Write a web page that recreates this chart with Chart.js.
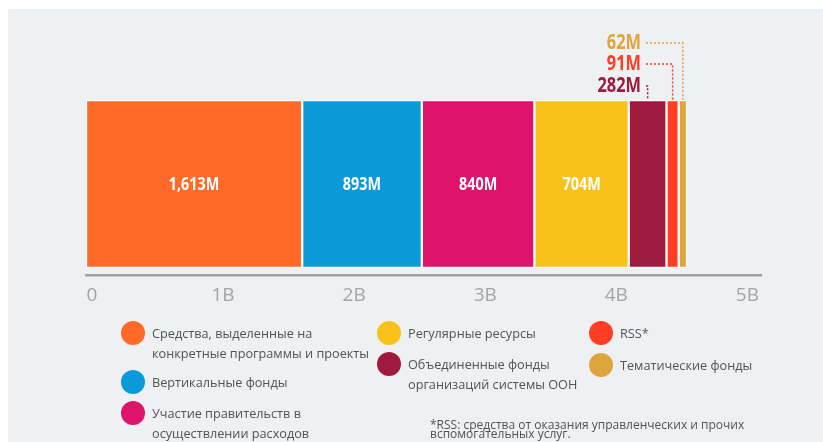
<!DOCTYPE html>
<html>
<head>
<meta charset="utf-8">
<script src="https://cdn.jsdelivr.net/npm/chart.js@4.4.0/dist/chart.umd.min.js"></script>
<style>
  html, body { margin: 0; padding: 0; background: #fff; }
  #wrap { position: relative; width: 823px; height: 442px; overflow: hidden; }
  #panel { position: absolute; left: 8px; top: 9px; right: 0; bottom: 0; background: #eff0f2; }
  #chart { position: absolute; left: 0; top: 0; }
  .leg { position: absolute; font-family: 'Open Sans', sans-serif; font-size: 12.7px; line-height: 20px; color: #4f5458; white-space: nowrap; }
  .dot { position: absolute; width: 24px; height: 24px; border-radius: 50%; }
  #note { position: absolute; left: 430px; top: 420px; font-family: 'Open Sans', sans-serif; font-size: 12px; line-height: 9px; color: #4f5458; white-space: nowrap; }
</style>
</head>
<body>
<div id="wrap">
  <div id="panel"></div>
  <canvas id="chart" width="823" height="442"></canvas>
  <div id="legend"></div>
  <div id="note">*RSS: средства от оказания управленческих и прочих<br>вспомогательных услуг.</div>
</div>
<script>
// данные
var categories = [
    'Средства, выделенные на\nконкретные программы и проекты',
    'Вертикальные фонды',
    'Участие правительств в\nосуществлении расходов',
    'Регулярные ресурсы',
    'Объединенные фонды\nорганизаций системы ООН',
    'RSS*',
    'Тематические фонды'
];
var values = [1613, 893, 840, 704, 282, 91, 62];
var valueLabels = ['1,613M', '893M', '840M', '704M', '282M', '91M', '62M'];
var colors = ['#ff6a28', '#0a99d9', '#e0136c', '#f9c21b', '#a01a40', '#ff3d22', '#dfa43c'];
var tickValues = [0, 1000, 2000, 3000, 4000, 5000];
var tickLabels = ['0', '1B', '2B', '3B', '4B', '5B'];

// легенда: позиция каждого пункта
var legendPos = [[121, 321], [121, 370], [121, 401], [377, 321], [377, 352], [589, 321], [589, 353]];
var legendBox = document.getElementById('legend');
categories.forEach(function (name, i) {
    var d = document.createElement('div');
    d.className = 'dot';
    d.style.left = legendPos[i][0] + 'px';
    d.style.top = legendPos[i][1] + 'px';
    d.style.background = colors[i];
    legendBox.appendChild(d);
    var t = document.createElement('div');
    t.className = 'leg';
    t.style.left = (legendPos[i][0] + 31) + 'px';
    t.style.top = (legendPos[i][1] + 2) + 'px';
    t.innerHTML = name.replace('\n', '<br>');
    legendBox.appendChild(t);
});

// узкий полужирный текст (сжатие по ширине)
function narrowText(ctx, text, x, y, size, align, sx) {
    ctx.save();
    ctx.font = 'bold ' + size + "px 'Noto Sans', 'Open Sans', sans-serif";
    ctx.textAlign = align;
    ctx.textBaseline = 'middle';
    ctx.translate(x, y);
    ctx.scale(sx, 1);
    ctx.fillText(text, 0, 0);
    ctx.restore();
}

// подписи значений на столбцах и выноски для маленьких сегментов
var labelPlugin = {
    id: 'valueLabels',
    afterDatasetsDraw: function (chart) {
        var ctx = chart.ctx;
        var outY = { 4: 86, 5: 64, 6: 43 };
        var outRight = 641;
        chart.data.datasets.forEach(function (ds, i) {
            var el = chart.getDatasetMeta(i).data[0];
            if (!el) return;
            ctx.save();
            if (i < 4) {
                ctx.fillStyle = '#ffffff';
                narrowText(ctx, valueLabels[i], (el.x + el.base) / 2, el.y + 1, 18, 'center', 0.8);
            } else {
                var y = outY[i];
                var cx = (el.x + el.base) / 2;
                var top = el.y - el.height / 2;
                ctx.fillStyle = colors[i];
                narrowText(ctx, valueLabels[i], outRight, y, 21, 'right', 0.78);
                ctx.strokeStyle = colors[i];
                ctx.lineWidth = 1.5;
                ctx.setLineDash([2, 2]);
                ctx.beginPath();
                ctx.moveTo(outRight + 5, y);
                ctx.lineTo(cx, y);
                ctx.lineTo(cx, top);
                ctx.stroke();
            }
            ctx.restore();
        });
    }
};

var ctx = document.getElementById('chart').getContext('2d');
var chart = new Chart(ctx, {
    type: 'bar',
    data: {
        labels: ['total'],
        datasets: values.map(function (v, i) {
            return {
                label: categories[i],
                data: [v],
                backgroundColor: colors[i],
                borderColor: 'rgba(255,255,255,0.7)',
                borderWidth: 1.5,
                borderSkipped: false,
                barThickness: 168
            };
        })
    },
    options: {
        indexAxis: 'y',
        responsive: false,
        animation: false,
        layout: { padding: { top: 93, left: 86, right: 62, bottom: 137 } },
        plugins: {
            legend: { display: false },
            tooltip: { enabled: false }
        },
        scales: {
            y: { stacked: true, display: false },
            // ось для сегментов (в оригинале между сегментами есть зазоры, поэтому шаг чуть крупнее)
            x: { stacked: true, display: false, min: 0, max: 5037 },
            // видимая ось с подписями
            xt: {
                type: 'linear',
                position: 'bottom',
                min: 0,
                max: 5150,
                grid: { display: false },
                border: { display: true, color: '#9ba1a6', width: 2.5 },
                afterBuildTicks: function (scale) {
                    scale.ticks = tickValues.map(function (v) { return { value: v }; });
                },
                afterFit: function (scale) { scale.height = 30; },
                ticks: {
                    color: '#9fa5aa',
                    padding: 1,
                    labelOffset: 6,
                    maxRotation: 0,
                    font: { family: "'Open Sans', sans-serif", size: 19, weight: '400' },
                    callback: function (value, index) { return tickLabels[index]; }
                }
            }
        }
    },
    plugins: [labelPlugin]
});
</script>
</body>
</html>
